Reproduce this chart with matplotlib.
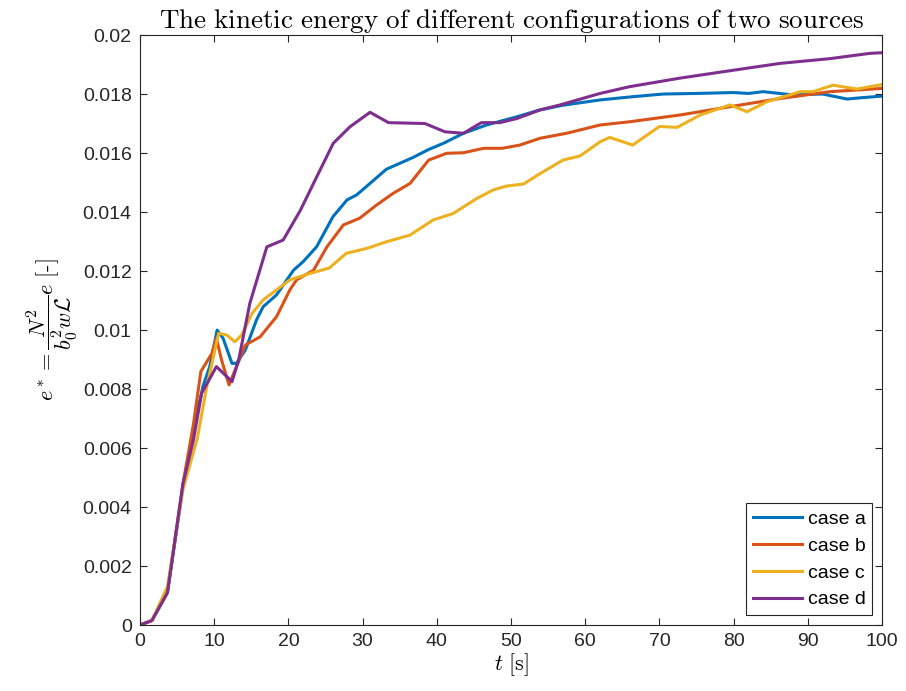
import matplotlib
matplotlib.use('Agg')
import matplotlib.pyplot as plt

plt.rcParams['font.family'] = ['Liberation Sans', 'DejaVu Sans']
plt.rcParams['mathtext.fontset'] = 'cm'

# time [s] and kinetic energy for each case
t_a = [0, 1.6, 3.7, 5.8, 7.2, 8.5, 9.4, 10.4, 11.2, 12.4, 13.0, 14.2, 15.7, 16.6, 18.4,
       20.7, 22.0, 23.8, 26.0, 27.9, 29.2, 31.0, 33.2, 35.0, 36.8, 38.9, 40.9, 43.6,
       46.7, 50.8, 53.9, 57.0, 62.0, 66.0, 70.5, 75.0, 80.0, 82.0, 84.0, 88.0, 92.0,
       95.3, 97.0, 100.0]
e_a = [0, 0.00015, 0.0011, 0.0047, 0.0066, 0.0081, 0.00876, 0.0100, 0.00972, 0.00887,
       0.00887, 0.00932, 0.01034, 0.01079, 0.01119, 0.01203, 0.01232, 0.01282, 0.01384,
       0.01441, 0.01458, 0.01497, 0.01545, 0.01565, 0.01585, 0.01612, 0.01633, 0.01667,
       0.01695, 0.01723, 0.01746, 0.01762, 0.0178, 0.0179, 0.0180, 0.01802, 0.01805,
       0.01802, 0.01808, 0.01797, 0.0180, 0.01783, 0.01787, 0.01793]

t_b = [0, 1.6, 3.7, 5.8, 7.2, 8.2, 9.7, 10.3, 11.0, 12.0, 13.0, 14.2, 16.2, 18.4, 20.2,
       21.1, 23.4, 25.2, 27.4, 29.6, 31.9, 34.1, 36.4, 38.9, 41.3, 43.6, 46.3, 48.8,
       51.2, 53.9, 57.5, 62.0, 66.0, 72.8, 79.5, 86.3, 93.0, 100.0]
e_b = [0, 0.00015, 0.0011, 0.0048, 0.0068, 0.00859, 0.00921, 0.00972, 0.00898, 0.00814,
       0.00876, 0.00949, 0.00977, 0.01045, 0.01136, 0.0117, 0.01203, 0.01282, 0.01356,
       0.01379, 0.01424, 0.01463, 0.01497, 0.01576, 0.01599, 0.01601, 0.01616, 0.01616,
       0.01627, 0.0165, 0.01667, 0.01695, 0.01706, 0.01729, 0.01757, 0.01785, 0.01808,
       0.01819]

t_c = [0, 1.6, 3.7, 5.8, 7.7, 9.0, 10.6, 11.7, 12.8, 13.7, 15.1, 16.6, 18.4, 20.2, 22.9,
       25.5, 27.8, 30.6, 33.2, 36.4, 39.5, 42.2, 45.4, 47.6, 49.4, 51.7, 53.9, 57.0,
       59.3, 62.0, 63.3, 66.4, 70.0, 72.4, 75.5, 79.5, 81.8, 84.5, 89.0, 90.7, 93.4,
       96.6, 100.0]
e_c = [0, 0.00015, 0.0013, 0.0046, 0.0063, 0.00808, 0.00989, 0.00983, 0.0096, 0.00983,
       0.01056, 0.01102, 0.01136, 0.0117, 0.01192, 0.0121, 0.0126, 0.01277, 0.01299,
       0.01322, 0.01373, 0.01395, 0.01446, 0.01475, 0.01488, 0.01495, 0.0153, 0.01576,
       0.01590, 0.01638, 0.01653, 0.01627, 0.0169, 0.01687, 0.01729, 0.01763, 0.0174,
       0.01774, 0.01808, 0.01808, 0.0183, 0.01817, 0.01832]

t_d = [0, 1.6, 3.7, 5.8, 7.2, 8.3, 10.3, 12.4, 13.3, 14.8, 17.1, 19.3, 21.6, 23.6, 26.05,
       28.3, 31.0, 33.5, 38.4, 41.1, 43.6, 46.0, 48.5, 50.8, 53.9, 56.6, 62.0, 66.0,
       72.8, 79.5, 86.3, 93.0, 98.4, 100.0]
e_d = [0, 0.00015, 0.0011, 0.0048, 0.00627, 0.00785, 0.00876, 0.00825, 0.00898, 0.0109,
       0.01282, 0.01305, 0.01405, 0.01508, 0.01633, 0.01689, 0.01738, 0.01703, 0.0170,
       0.01672, 0.01667, 0.01703, 0.01703, 0.01717, 0.01746, 0.01763, 0.01802, 0.01825,
       0.01854, 0.01879, 0.01904, 0.0192, 0.01938, 0.0194]

labels = ['case a', 'case b', 'case c', 'case d']
colors = ['#0072BD', '#D95319', '#EDB120', '#7E2F8E']

fig = plt.figure(figsize=(9.06, 6.91), dpi=100)
ax = fig.add_axes([0.1545, 0.0955, 0.819, 0.8538])

for t, e, lab, c in zip([t_a, t_b, t_c, t_d], [e_a, e_b, e_c, e_d], labels, colors):
    ax.plot(t, e, color=c, lw=2.2, label=lab)

ax.set_xlim(0, 100)
ax.set_ylim(0, 0.02)
ax.set_xticks(range(0, 101, 10))
ax.set_yticks([i * 0.002 for i in range(11)])
ax.set_yticklabels(['0', '0.002', '0.004', '0.006', '0.008', '0.01', '0.012',
                    '0.014', '0.016', '0.018', '0.02'])
ax.tick_params(direction='in', top=True, right=True, labelsize=14, colors='#262626',
               length=5, pad=6)
for s in ax.spines.values():
    s.set_color('#262626')
    s.set_linewidth(0.8)

ax.set_title(r'$\mathrm{The\ kinetic\ energy\ of\ different\ configurations\ of\ two\ sources}$',
             fontsize=19.5, pad=5)
ax.set_xlabel(r'$t\ \mathrm{[s]}$', fontsize=16, labelpad=1)
ax.set_ylabel(r'$e^* = \dfrac{N^2}{b_0^2 w \mathcal{L}} e\ \mathrm{[\text{-}]}$', fontsize=16, labelpad=2)

leg = ax.legend(loc='lower right', fontsize=14, fancybox=False, framealpha=1,
                edgecolor='#262626', handlelength=2.5, handletextpad=0.3,
                borderaxespad=0.5, labelspacing=0.48, borderpad=0.35)
leg.get_frame().set_linewidth(0.8)

fig.savefig('out.png', dpi=100)
